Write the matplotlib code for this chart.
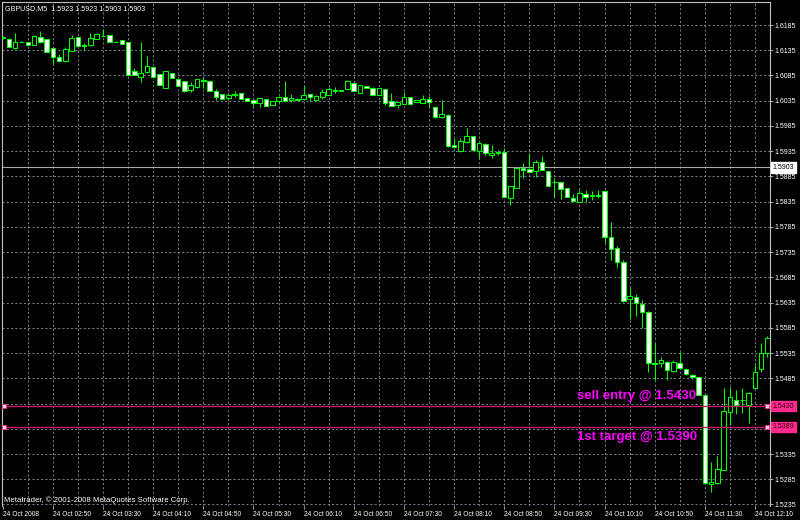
import numpy as np
import matplotlib
matplotlib.use("Agg")
import matplotlib.pyplot as plt
import matplotlib.transforms as mtransforms

# GBPUSD M5, 24 Oct 2008, one bar every 5 minutes starting 02:10
opens = [1.6161, 1.6157, 1.6139, 1.6152, 1.6151, 1.6145, 1.6161, 1.6157, 1.6139, 1.6122,
         1.6114, 1.6133, 1.6161, 1.6145, 1.6145, 1.6157, 1.6163, 1.6165, 1.6152, 1.6155,
         1.6151, 1.6094, 1.6082, 1.6092, 1.6102, 1.6088, 1.6060, 1.6090, 1.6078, 1.6074,
         1.6056, 1.6062, 1.6076, 1.6074, 1.6054, 1.6048, 1.6040, 1.6048, 1.6050, 1.6040,
         1.6036, 1.6030, 1.6038, 1.6026, 1.6034, 1.6042, 1.6036, 1.6038, 1.6038, 1.6048,
         1.6036, 1.6042, 1.6046, 1.6056, 1.6056, 1.6058, 1.6070, 1.6050, 1.6064, 1.6060,
         1.6046, 1.6058, 1.6034, 1.6026, 1.6028, 1.6042, 1.6032, 1.6030, 1.6038, 1.6022,
         1.6003, 1.6006, 1.5947, 1.5935, 1.5953, 1.5965, 1.5935, 1.5949, 1.5927, 1.5933,
         1.5933, 1.5842, 1.5862, 1.5901, 1.5899, 1.5895, 1.5913, 1.5895, 1.5874, 1.5874,
         1.5862, 1.5842, 1.5834, 1.5850, 1.5848, 1.5848, 1.5856, 1.5765, 1.5743, 1.5715,
         1.5642, 1.5646, 1.5632, 1.5616, 1.5515, 1.5515, 1.5517, 1.5499, 1.5515, 1.5503,
         1.5491, 1.5487, 1.5451, 1.5275, 1.5277, 1.5304, 1.5419, 1.5443, 1.5443, 1.5433,
         1.5465, 1.5503, 1.5535]
highs = [1.6163, 1.6159, 1.6169, 1.6153, 1.6151, 1.6165, 1.6173, 1.6157, 1.6139, 1.6127,
         1.6141, 1.6165, 1.6161, 1.6149, 1.6169, 1.6169, 1.6177, 1.6165, 1.6153, 1.6155,
         1.6151, 1.6100, 1.6151, 1.6124, 1.6102, 1.6088, 1.6094, 1.6090, 1.6078, 1.6074,
         1.6072, 1.6078, 1.6082, 1.6076, 1.6058, 1.6048, 1.6050, 1.6054, 1.6050, 1.6040,
         1.6036, 1.6040, 1.6038, 1.6034, 1.6044, 1.6074, 1.6048, 1.6040, 1.6064, 1.6048,
         1.6046, 1.6058, 1.6062, 1.6062, 1.6056, 1.6076, 1.6070, 1.6066, 1.6064, 1.6062,
         1.6060, 1.6058, 1.6050, 1.6032, 1.6052, 1.6042, 1.6036, 1.6046, 1.6044, 1.6024,
         1.6036, 1.6008, 1.5961, 1.5961, 1.5981, 1.5965, 1.5951, 1.5951, 1.5947, 1.5937,
         1.5941, 1.5866, 1.5903, 1.5911, 1.5931, 1.5917, 1.5925, 1.5895, 1.5882, 1.5874,
         1.5862, 1.5850, 1.5858, 1.5858, 1.5856, 1.5858, 1.5856, 1.5794, 1.5747, 1.5719,
         1.5663, 1.5653, 1.5640, 1.5618, 1.5554, 1.5527, 1.5519, 1.5521, 1.5538, 1.5505,
         1.5493, 1.5487, 1.5451, 1.5320, 1.5332, 1.5465, 1.5467, 1.5461, 1.5465, 1.5457,
         1.5511, 1.5554, 1.5568]
lows = [1.6157, 1.6141, 1.6137, 1.6151, 1.6145, 1.6145, 1.6149, 1.6131, 1.6108, 1.6112,
        1.6112, 1.6133, 1.6143, 1.6135, 1.6143, 1.6157, 1.6163, 1.6151, 1.6151, 1.6147,
        1.6086, 1.6086, 1.6072, 1.6090, 1.6082, 1.6066, 1.6060, 1.6080, 1.6064, 1.6052,
        1.6052, 1.6060, 1.6060, 1.6054, 1.6036, 1.6038, 1.6036, 1.6042, 1.6038, 1.6034,
        1.6024, 1.6022, 1.6024, 1.6026, 1.6030, 1.6034, 1.6032, 1.6036, 1.6036, 1.6034,
        1.6034, 1.6038, 1.6046, 1.6050, 1.6055, 1.6058, 1.6054, 1.6050, 1.6060, 1.6046,
        1.6046, 1.6026, 1.6024, 1.6020, 1.6028, 1.6026, 1.6032, 1.6030, 1.6022, 1.6001,
        1.6001, 1.5943, 1.5941, 1.5933, 1.5951, 1.5937, 1.5921, 1.5927, 1.5921, 1.5927,
        1.5844, 1.5828, 1.5862, 1.5882, 1.5891, 1.5884, 1.5897, 1.5866, 1.5844, 1.5840,
        1.5844, 1.5836, 1.5834, 1.5834, 1.5838, 1.5842, 1.5753, 1.5719, 1.5705, 1.5636,
        1.5602, 1.5608, 1.5584, 1.5497, 1.5481, 1.5507, 1.5481, 1.5497, 1.5503, 1.5491,
        1.5483, 1.5451, 1.5275, 1.5259, 1.5275, 1.5304, 1.5392, 1.5415, 1.5417, 1.5396,
        1.5465, 1.5497, 1.5527]
closes = [1.6159, 1.6141, 1.6151, 1.6151, 1.6145, 1.6163, 1.6151, 1.6131, 1.6122, 1.6114,
          1.6137, 1.6159, 1.6143, 1.6144, 1.6159, 1.6167, 1.6164, 1.6151, 1.6151, 1.6147,
          1.6086, 1.6086, 1.6090, 1.6104, 1.6082, 1.6066, 1.6094, 1.6080, 1.6064, 1.6054,
          1.6066, 1.6078, 1.6075, 1.6054, 1.6042, 1.6038, 1.6046, 1.6047, 1.6038, 1.6034,
          1.6030, 1.6040, 1.6024, 1.6034, 1.6042, 1.6034, 1.6040, 1.6037, 1.6046, 1.6042,
          1.6044, 1.6052, 1.6058, 1.6055, 1.6055, 1.6074, 1.6054, 1.6066, 1.6060, 1.6046,
          1.6060, 1.6030, 1.6024, 1.6032, 1.6042, 1.6028, 1.6036, 1.6038, 1.6032, 1.6003,
          1.6008, 1.5945, 1.5943, 1.5955, 1.5965, 1.5937, 1.5951, 1.5931, 1.5931, 1.5932,
          1.5844, 1.5866, 1.5901, 1.5897, 1.5893, 1.5913, 1.5897, 1.5866, 1.5873, 1.5860,
          1.5844, 1.5836, 1.5852, 1.5844, 1.5847, 1.5847, 1.5765, 1.5741, 1.5715, 1.5638,
          1.5648, 1.5634, 1.5616, 1.5515, 1.5514, 1.5521, 1.5501, 1.5517, 1.5505, 1.5493,
          1.5487, 1.5451, 1.5277, 1.5279, 1.5306, 1.5421, 1.5447, 1.5433, 1.5442, 1.5455,
          1.5497, 1.5536, 1.5564]

time_labels = ["24 Oct 2008", "24 Oct 02:50", "24 Oct 03:30", "24 Oct 04:10",
               "24 Oct 04:50", "24 Oct 05:30", "24 Oct 06:10", "24 Oct 06:50",
               "24 Oct 07:30", "24 Oct 08:10", "24 Oct 08:50", "24 Oct 09:30",
               "24 Oct 10:10", "24 Oct 10:50", "24 Oct 11:30", "24 Oct 12:10"]
price_ticks = [1.6185, 1.6135, 1.6085, 1.6035, 1.5985, 1.5935, 1.5885, 1.5835,
               1.5785, 1.5735, 1.5685, 1.5635, 1.5585, 1.5535, 1.5485, 1.5435,
               1.5385, 1.5335, 1.5285, 1.5235]
bid_price = 1.5903
sell_entry = 1.5430
first_target = 1.5389

GREEN = "#00ff00"
GRID = "#74808c"
PINK_LINE = "#c8176f"
PINK_BOX = "#ff2a8c"

plt.rcParams["font.family"] = ["Liberation Sans", "DejaVu Sans"]

fig = plt.figure(figsize=(8, 5.2), dpi=100, facecolor="black")
ax = fig.add_axes([2 / 800, 14 / 520, 768 / 800, 504 / 520], facecolor="black")

o = np.array(opens)
h = np.array(highs)
l = np.array(lows)
c = np.array(closes)
x = np.arange(len(o))

# wicks, then bodies (bull = hollow black, bear = white)
ax.vlines(x, l, h, color=GREEN, linewidth=0.75, zorder=3)
bull = c >= o
face = np.where(bull, "black", "white")
ax.bar(x, np.abs(c - o), bottom=np.minimum(o, c), width=0.72,
       color=face, edgecolor=GREEN, linewidth=0.75, zorder=4)

ax.set_xlim(-0.11, 122.4)
ax.set_ylim(1.5232, 1.62306)

# dotted grid like the terminal
for xv in range(4, 124, 4):
    ax.axvline(xv, color=GRID, linewidth=0.7, dashes=(2.2, 2.2), zorder=1)
for yv in price_ticks:
    ax.axhline(yv, color=GRID, linewidth=0.7, dashes=(2.2, 2.2), zorder=1)

ax.axhline(bid_price, color="#a8a8a8", linewidth=0.8, zorder=2)
ax.axhline(sell_entry, color=PINK_LINE, linewidth=1.0, zorder=5)
ax.axhline(first_target, color=PINK_LINE, linewidth=1.0, zorder=5)
for yv in (sell_entry, first_target):
    ax.plot([0.2, 121.9], [yv, yv], linestyle="none", marker="s", markersize=3,
            markerfacecolor="#ffd0e8", markeredgecolor=PINK_BOX, markeredgewidth=0.6,
            zorder=6, clip_on=False)

ax.text(91.6, 1.5449, "sell entry @ 1.5430", color="#ff00ff", fontsize=9.5,
        fontweight="bold", va="center", ha="left", zorder=7)
ax.text(91.6, 1.5368, "1st target @ 1.5390", color="#ff00ff", fontsize=9.5,
        fontweight="bold", va="center", ha="left", zorder=7)

# axes / ticks
for side in ("left", "right", "top"):
    ax.spines[side].set_color("#c0c0c0")
    ax.spines[side].set_linewidth(0.8)
ax.spines["bottom"].set_visible(False)

# the 1.5435 / 1.5385 labels sit under the line price boxes
hidden = (1.5435, 1.5385)
ax.yaxis.tick_right()
ax.set_yticks(price_ticks)
ax.set_yticklabels(["" if p in hidden else "%.4f" % p for p in price_ticks])
ax.tick_params(axis="y", colors="#c0c0c0", labelcolor="white", labelsize=5.0,
               length=2, width=0.6, pad=1.5)

ax.set_xticks(np.arange(0, 121, 8))
ax.set_xticklabels(time_labels)
ax.tick_params(axis="x", colors="#c0c0c0", labelcolor="white", labelsize=4.8,
               length=2, width=0.6, pad=1.5)
for lab in ax.get_xticklabels():
    lab.set_horizontalalignment("left")

# price boxes on the right scale
trans = mtransforms.blended_transform_factory(ax.transAxes, ax.transData)
ax.text(1.0035, bid_price, "1.5903", transform=trans, fontsize=5.0, color="black",
        va="center", ha="left", zorder=8,
        bbox=dict(boxstyle="square,pad=0.25", facecolor="white", edgecolor="white"))
for yv, txt in ((sell_entry, "1.5430"), (first_target, "1.5389")):
    ax.text(1.0035, yv, txt, transform=trans, fontsize=5.0, color="#300010",
            va="center", ha="left", zorder=8,
            bbox=dict(boxstyle="square,pad=0.25", facecolor=PINK_BOX, edgecolor=PINK_BOX))

ax.text(0.004, 0.988, "GBPUSD,M5  1.5923 1.5923 1.5903 1.5903", transform=ax.transAxes,
        color="white", fontsize=5.1, va="center", ha="left")
ax.text(0.003, 0.012, "Metatrader, \u00a9 2001-2008 MetaQuotes Software Corp.",
        transform=ax.transAxes, color="white", fontsize=5.6, va="center", ha="left")

fig.savefig("out.png", dpi=100, facecolor="black")
